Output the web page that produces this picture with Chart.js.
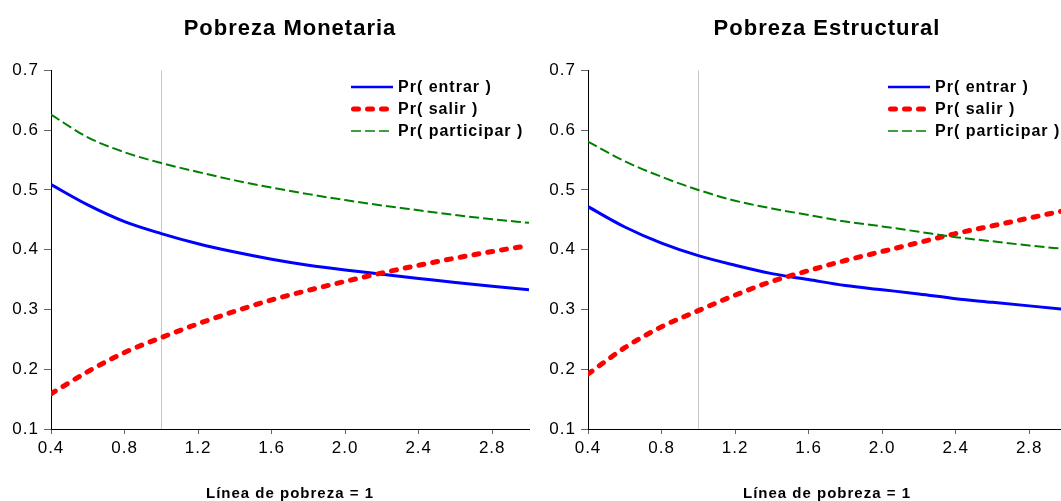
<!DOCTYPE html>
<html>
<head>
<meta charset="utf-8">
<script src="https://cdn.jsdelivr.net/npm/chart.js@4.4.1/dist/chart.umd.min.js"></script>
<style>
  html, body { margin: 0; padding: 0; background: #fff; overflow: hidden; width: 1061px; height: 501px; position: relative; }
  canvas { position: absolute; top: 0; }
  #monetaria { left: 0; }
  #estructural { left: 537px; }
</style>
</head>
<body>
<canvas id="monetaria" width="540" height="501"></canvas>
<canvas id="estructural" width="540" height="501"></canvas>
<script>
// Poverty line multiples (x) at which the probabilities are evaluated
const povertyLineMultiples = [0.4, 0.6, 0.8, 1.0, 1.2, 1.4, 1.6, 1.8, 2.0, 2.2, 2.4, 2.6, 2.8, 3.0];

// Pobreza Monetaria
const monetariaEntrar      = [0.509, 0.475, 0.447, 0.427, 0.410, 0.396, 0.384, 0.374, 0.366, 0.359, 0.352, 0.345, 0.339, 0.333];
const monetariaSalir       = [0.159, 0.196, 0.228, 0.253, 0.276, 0.297, 0.316, 0.332, 0.347, 0.361, 0.374, 0.386, 0.397, 0.407];
const monetariaParticipar  = [0.626, 0.588, 0.563, 0.545, 0.530, 0.516, 0.504, 0.493, 0.483, 0.474, 0.466, 0.458, 0.451, 0.445];

// Pobreza Estructural
const estructuralEntrar     = [0.472, 0.438, 0.411, 0.390, 0.374, 0.360, 0.350, 0.340, 0.333, 0.326, 0.318, 0.312, 0.306, 0.300];
const estructuralSalir      = [0.192, 0.236, 0.271, 0.298, 0.324, 0.347, 0.365, 0.382, 0.397, 0.412, 0.427, 0.440, 0.453, 0.466];
const estructuralParticipar = [0.581, 0.548, 0.522, 0.500, 0.482, 0.469, 0.458, 0.447, 0.439, 0.430, 0.421, 0.414, 0.407, 0.401];

// Axis ticks and reference line
const xTickValues = [0.4, 0.8, 1.2, 1.6, 2.0, 2.4, 2.8];
const yTickValues = [0.1, 0.2, 0.3, 0.4, 0.5, 0.6, 0.7];
const referenceLine = [1.0];

const seriesLabels = ['Pr( entrar )', 'Pr( salir )', 'Pr( participar )'];
const FONT = '"Liberation Sans", Arial, Helvetica, sans-serif';

// EViews-style text: slightly spaced letters
const spacingPlugin = {
  id: 'spacing',
  beforeLayout(chart) { chart.ctx.letterSpacing = '1px'; },
  beforeDraw(chart) { chart.ctx.letterSpacing = '1px'; }
};

// Thin grey vertical line at the poverty line
const refLinePlugin = {
  id: 'refLine',
  beforeDatasetsDraw(chart) {
    const { ctx, chartArea, scales } = chart;
    ctx.save();
    ctx.strokeStyle = '#c8c8c8';
    ctx.lineWidth = 1;
    referenceLine.forEach(v => {
      const x = Math.round(scales.x.getPixelForValue(v)) + 0.5;
      ctx.beginPath();
      ctx.moveTo(x, chartArea.top);
      ctx.lineTo(x, chartArea.bottom);
      ctx.stroke();
    });
    ctx.restore();
  }
};

// Legend drawn inside the plot, top right, with line samples
const insideLegendPlugin = {
  id: 'insideLegend',
  afterDatasetsDraw(chart) {
    const { ctx, chartArea } = chart;
    ctx.save();
    ctx.letterSpacing = '1px';
    chart.data.datasets.forEach((ds, i) => {
      const y = chartArea.top + 16.6 + i * 22;
      const x0 = chartArea.right - 178;
      ctx.beginPath();
      ctx.strokeStyle = ds.borderColor;
      ctx.lineWidth = ds.legendWidth;
      ctx.lineCap = ds.borderCapStyle || 'butt';
      ctx.setLineDash(ds.borderDash || []);
      ctx.moveTo(x0 + (ds.borderCapStyle === 'round' ? 2.5 : 0), y);
      ctx.lineTo(x0 + 42, y);
      ctx.stroke();
      ctx.setLineDash([]);
      ctx.fillStyle = '#000';
      ctx.font = 'bold 16px ' + FONT;
      ctx.textBaseline = 'middle';
      ctx.textAlign = 'left';
      ctx.fillText(ds.label, x0 + 47, y + 1);
    });
    ctx.restore();
  }
};

function points(values) {
  return values.map((v, i) => ({ x: povertyLineMultiples[i], y: v }));
}

function makeChart(id, title, entrar, salir, participar) {
  return new Chart(document.getElementById(id), {
    type: 'line',
    data: {
      datasets: [
        { label: seriesLabels[0], data: points(entrar), borderColor: '#0000ff', borderWidth: 3,
          legendWidth: 2.5, order: 3 },
        { label: seriesLabels[1], data: points(salir), borderColor: '#ff0000', borderWidth: 5,
          legendWidth: 5, borderDash: [5, 9], borderCapStyle: 'round', order: 2 },
        { label: seriesLabels[2], data: points(participar), borderColor: '#008000', borderWidth: 2,
          legendWidth: 1.5, borderDash: [10, 4], order: 1 }
      ]
    },
    options: {
      responsive: false,
      animation: false,
      events: [],
      layout: { padding: { left: 0, right: 11, top: 0, bottom: 0 } },
      elements: {
        point: { radius: 0 },
        line: { cubicInterpolationMode: 'monotone', fill: false }
      },
      plugins: {
        legend: { display: false },
        tooltip: { enabled: false },
        title: {
          display: true,
          fullSize: false,   // centre the title over the plot area
          text: title,
          color: '#000',
          font: { family: FONT, size: 22, weight: 'bold', lineHeight: 1.2 },
          padding: { top: 16, bottom: 28 }
        }
      },
      scales: {
        x: {
          type: 'linear',
          min: 0.4,
          max: 3.0,
          afterBuildTicks: s => { s.ticks = xTickValues.map(v => ({ value: v })); },
          afterFit: s => { s.height = 72; },
          ticks: {
            callback: v => Number(v).toFixed(1),
            color: '#000',
            font: { family: FONT, size: 17 },
            padding: 4,
            maxRotation: 0,
            autoSkip: false
          },
          grid: { drawOnChartArea: false, drawTicks: true, tickLength: 5, color: '#666' },
          border: { display: true, color: '#000', width: 1 },
          title: {
            display: true,
            text: 'Línea de pobreza = 1',
            color: '#000',
            font: { family: FONT, size: 15, weight: 'bold', lineHeight: 1.0 },
            padding: { top: 0, bottom: 0 }
          }
        },
        y: {
          type: 'linear',
          min: 0.1,
          max: 0.7,
          afterBuildTicks: s => { s.ticks = yTickValues.map(v => ({ value: v })); },
          afterFit: s => { s.width = 51; },
          ticks: {
            callback: v => Number(v).toFixed(1),
            color: '#000',
            font: { family: FONT, size: 17 },
            padding: 5
          },
          grid: { drawOnChartArea: false, drawTicks: true, tickLength: 7, color: '#666' },
          border: { display: true, color: '#000', width: 1 }
        }
      }
    },
    plugins: [spacingPlugin, refLinePlugin, insideLegendPlugin]
  });
}

makeChart('monetaria', 'Pobreza Monetaria', monetariaEntrar, monetariaSalir, monetariaParticipar);
makeChart('estructural', 'Pobreza Estructural', estructuralEntrar, estructuralSalir, estructuralParticipar);
</script>
</body>
</html>
